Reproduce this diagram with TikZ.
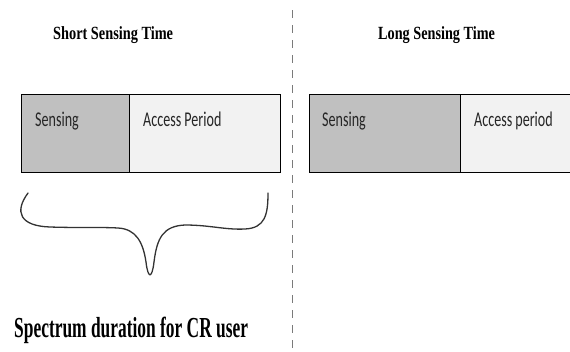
\documentclass[tikz,border=0pt]{standalone}
\usepackage{fontspec}
\setmainfont{Liberation Serif}
\newfontfamily\calib{Carlito}
\begin{document}
\begin{tikzpicture}[x=1pt,y=-1pt,
  sensebox/.style={draw=black, line width=1.2pt, fill=senseGray, minimum height=78pt, inner sep=0pt, anchor=north west},
  accessbox/.style={draw=black, line width=1.2pt, fill=accessGray, minimum height=78pt, inner sep=0pt, anchor=north west},
  boxlabel/.style={anchor=base west, inner sep=0pt, text=labelInk, font=\calib\fontsize{21}{22}\selectfont},
  title/.style={anchor=base west, inner sep=0pt, font=\bfseries\fontsize{18.6}{20}\selectfont},
  divider/.style={draw=dashGray, line width=1.7pt, dash pattern=on 8pt off 7pt}
]
\definecolor{senseGray}{HTML}{C0C0C0}
\definecolor{accessGray}{HTML}{F2F2F2}
\definecolor{labelInk}{HTML}{262626}
\definecolor{dashGray}{HTML}{7A7A7A}
\clip (0,0) rectangle (570,351);
\fill[white] (0,0) rectangle (570,351);

% vertical separator
\coordinate (dtop) at (292.5,10);
\coordinate (dbot) at (292.5,351);
\draw[divider] (dtop) -- (dbot);

% titles
\node[title] (t1) at (53,39) {\scalebox{0.77}[1]{Short Sensing Time}};
\node[title] (t2) at (378,39) {\scalebox{0.765}[1]{Long Sensing Time}};

% short sensing frame
\node[accessbox, minimum width=259pt] (a1) at (21,94) {};
\node[sensebox, minimum width=108pt] (s1) at (21,94) {};
\node[boxlabel] (ls1) at (35,126.7) {\scalebox{0.67}[1]{Sensing}};
\node[boxlabel] (la1) at (143,126.7) {\scalebox{0.67}[1]{Access Period}};

% long sensing frame
\node[accessbox, minimum width=280pt] (a2) at (309,94) {};
\node[sensebox, minimum width=151pt] (s2) at (309,94) {};
\node[boxlabel] (ls2) at (322,126.7) {\scalebox{0.67}[1]{Sensing}};
\node[boxlabel] (la2) at (474,126.7) {\scalebox{0.67}[1]{Access period}};

% brace under the short frame
\coordinate (bl) at (28,193);
\coordinate (br) at (268,193);
\coordinate (tip) at (150,277);
\draw[line width=1.3pt, draw=black!80, line cap=round]
  (bl) .. controls (14,212) and (20,226) .. (50,227)
  .. controls (80,228) and (100,227) .. (118,228)
  .. controls (136,229) and (143,242) .. (146,262)
  .. controls (148,279) and (152,279) .. (154,262)
  .. controls (157,238) and (163,226) .. (185,225)
  .. controls (210,225) and (225,230) .. (245,229)
  .. controls (265,228) and (268,215) .. (br);

% caption
\node[anchor=base west, inner sep=0pt, font=\bfseries\fontsize{29}{30}\selectfont] (cap) at (14,337.7) {\scalebox{0.6}[1]{Spectrum duration for CR user}};
\end{tikzpicture}
\end{document}
